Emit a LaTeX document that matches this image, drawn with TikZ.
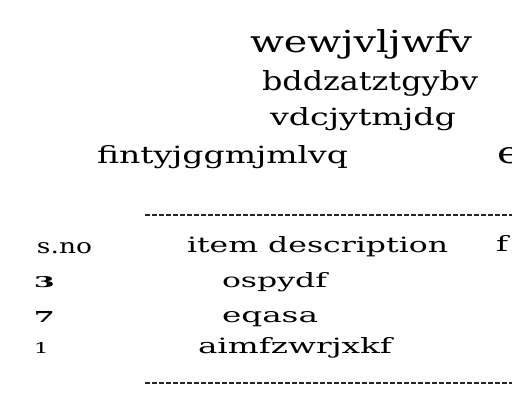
\documentclass[tikz,border=0pt]{standalone}
\usepackage{fontspec}
\usepackage{graphicx}
\setmainfont{DejaVu Serif}
\newcommand{\fitt}[3]{\resizebox{#1pt}{#2pt}{#3}}
\tikzset{
  txt/.style={anchor=base west, inner sep=0pt, outer sep=0pt, text=black},
  rule/.style={draw=black!85, line width=1.4pt, dash pattern=on 5pt off 2pt}
}
\begin{document}
\begin{tikzpicture}[x=1pt,y=-1pt]
\useasboundingbox[fill=white] (0,0) rectangle (512,400);
% header
\node[txt] (t1) at (250,52) {\fitt{222}{23}{wewjvljwfv}};
\node[txt] (t2) at (262,90) {\fitt{216}{20}{bddzatztgybv}};
\node[txt] (t3) at (270,125) {\fitt{186}{18}{vdcjytmjdg}};
\node[txt] (t4) at (97,163) {\fitt{251}{18}{fintyjggmjmlvq}};
\node[txt] (t5) at (497,163) {\fitt{24}{16}{e}};
% rules
\coordinate (r1a) at (145,215);
\coordinate (r1b) at (512,215);
\coordinate (r2a) at (145,383);
\coordinate (r2b) at (512,383);
\draw[rule] (r1a) -- (r1b);
\draw[rule] (r2a) -- (r2b);
% table header
\node[txt] (h1) at (37,253) {\fitt{55}{11}{s.no}};
\node[txt] (h2) at (187,252) {\fitt{261}{16}{item description}};
\node[txt] (h3) at (496,251) {\fitt{12}{16}{f}};
% rows
\node[txt] (n1) at (34,287) {\fitt{21}{11}{\bfseries 3}};
\node[txt] (d1) at (222,287) {\fitt{105}{15}{ospydf}};
\node[txt] (n2) at (34,322) {\fitt{21}{11}{\bfseries 7}};
\node[txt] (d2) at (222,322) {\fitt{96}{11}{eqasa}};
\node[txt] (n3) at (34,353) {\fitt{15}{11}{1}};
\node[txt] (d3) at (198,353) {\fitt{194}{16}{aimfzwrjxkf}};
\end{tikzpicture}
\end{document}
